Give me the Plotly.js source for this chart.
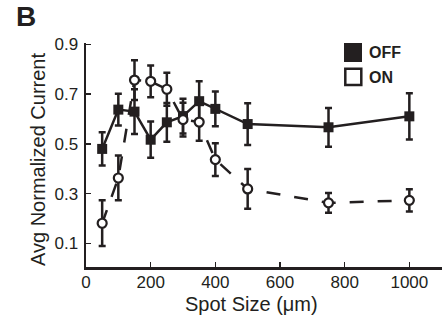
<!DOCTYPE html>
<html>
<head>
<meta charset="utf-8">
<script src="https://cdn.plot.ly/plotly-3.0.1.min.js"></script>
<style>html,body{margin:0;padding:0;background:#fff;}#chart{width:442px;height:327px;}</style>
</head>
<body>
<div id="chart"></div>
<script>
// Data
var spotSize = [50, 100, 150, 200, 250, 300, 350, 400, 500, 750, 1000];
var offMean = [0.480, 0.638, 0.630, 0.517, 0.587, 0.612, 0.672, 0.641, 0.580, 0.567, 0.611];
var offErr  = [0.067, 0.064, 0.090, 0.073, 0.078, 0.070, 0.080, 0.070, 0.084, 0.078, 0.093];
var onMean  = [0.181, 0.363, 0.757, 0.752, 0.720, 0.598, 0.588, 0.437, 0.319, 0.263, 0.273];
var onErr   = [0.092, 0.090, 0.080, 0.064, 0.066, 0.068, 0.075, 0.066, 0.080, 0.040, 0.045];
var yTicks = [0.1, 0.3, 0.5, 0.7, 0.9];
var xTicks = [0, 200, 400, 600, 800, 1000];
var legendLabels = ['OFF', 'ON'];

var ink = '#231f20';
var tickFont = {family: '"Liberation Sans", Arial, sans-serif', size: 17, color: ink};

var traces = [
  {
    x: spotSize, y: offMean, type: 'scatter', mode: 'lines+markers', name: legendLabels[0],
    line: {color: ink, width: 2.5},
    marker: {symbol: 'square', size: 10, color: ink},
    error_y: {type: 'data', array: offErr, visible: true, color: ink, thickness: 2.5, width: 3.5},
    cliponaxis: false
  },
  {
    x: spotSize, y: onMean, type: 'scatter', mode: 'lines+markers', name: legendLabels[1],
    line: {color: ink, width: 2.5, dash: '14px,14px'},
    marker: {symbol: 'circle', size: 9, color: '#ffffff', line: {color: ink, width: 2.2}},
    error_y: {type: 'data', array: onErr, visible: true, color: ink, thickness: 2.5, width: 3.5},
    cliponaxis: false
  }
];

var L = 86, W = 356, T = 43, H = 224;
function px(x) { return (x - L) / W; }
function py(y) { return (T + H - y) / H; }

var layout = {
  width: 442, height: 327,
  margin: {l: L, r: 442 - L - W, t: T, b: 327 - T - H, pad: 0},
  paper_bgcolor: '#ffffff', plot_bgcolor: '#ffffff',
  showlegend: false,
  font: {family: '"Liberation Sans", Arial, sans-serif', color: ink},
  xaxis: {
    range: [0, 1101], tickvals: xTicks, ticktext: xTicks.map(String),
    ticks: 'inside', ticklen: 5, tickwidth: 1.5, tickcolor: ink,
    showline: true, linecolor: ink, linewidth: 2.5, showgrid: false, zeroline: false,
    tickfont: tickFont, ticklabelstandoff: -2
  },
  yaxis: {
    range: [0.005, 0.906], tickvals: yTicks, ticktext: yTicks.map(function(v){return v.toFixed(1);}),
    ticks: 'inside', ticklen: 5, tickwidth: 1.5, tickcolor: ink,
    showline: true, linecolor: ink, linewidth: 2.5, showgrid: false, zeroline: false,
    tickfont: tickFont, ticklabelstandoff: 2
  },
  shapes: [
    {type: 'rect', xref: 'paper', yref: 'paper', x0: px(344), x1: px(362), y0: py(62), y1: py(43),
     fillcolor: ink, line: {width: 0}},
    {type: 'rect', xref: 'paper', yref: 'paper', x0: px(345.3), x1: px(361.3), y0: py(85), y1: py(68.7),
     fillcolor: '#ffffff', line: {color: ink, width: 2.5}}
  ],
  annotations: [
    {text: '<b>B</b>', xref: 'paper', yref: 'paper', x: px(14), y: py(17), xanchor: 'left', yanchor: 'middle',
     showarrow: false, font: {family: '"Liberation Sans", Arial, sans-serif', size: 28, color: ink}},
    {text: 'Avg Normalized Current', xref: 'paper', yref: 'paper', x: px(38), y: py(160), xanchor: 'center', yanchor: 'middle',
     textangle: -90, showarrow: false, font: {family: '"Liberation Sans", Arial, sans-serif', size: 20, color: ink}},
    {text: 'Spot Size (\u03bcm)', xref: 'paper', yref: 'paper', x: px(251), y: py(304), xanchor: 'center', yanchor: 'middle',
     showarrow: false, font: {family: '"Liberation Sans", Arial, sans-serif', size: 20, color: ink}},
    {text: '<b>' + legendLabels[0] + '</b>', xref: 'paper', yref: 'paper', x: px(367), y: py(53), xanchor: 'left', yanchor: 'middle',
     showarrow: false, font: {family: '"Liberation Sans", Arial, sans-serif', size: 16, color: ink}},
    {text: '<b>' + legendLabels[1] + '</b>', xref: 'paper', yref: 'paper', x: px(367), y: py(77), xanchor: 'left', yanchor: 'middle',
     showarrow: false, font: {family: '"Liberation Sans", Arial, sans-serif', size: 16, color: ink}}
  ]
};

Plotly.newPlot('chart', traces, layout, {displayModeBar: false, staticPlot: true});
</script>
</body>
</html>
